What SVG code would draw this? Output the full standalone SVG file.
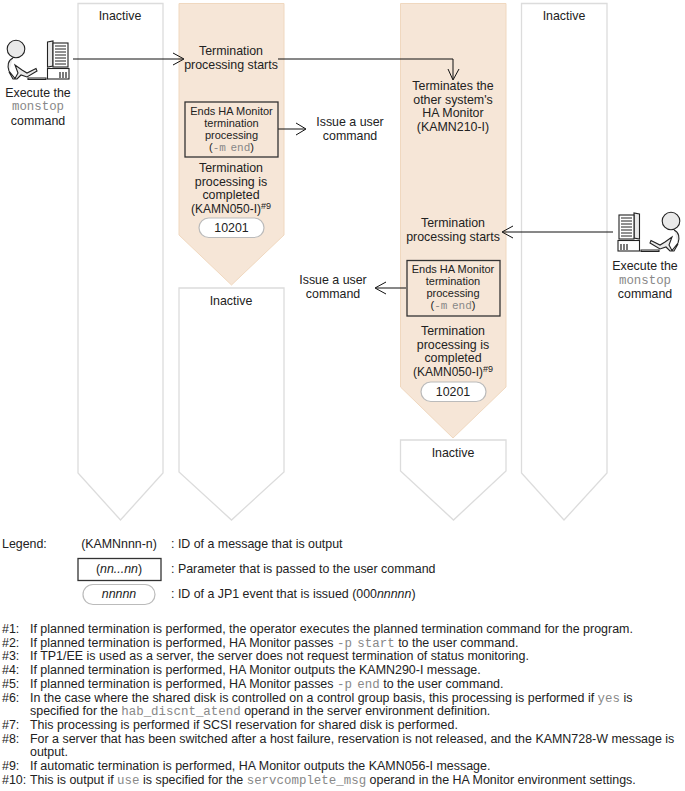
<svg xmlns="http://www.w3.org/2000/svg" width="685" height="791" viewBox="0 0 685 791">
<style>
text{font-family:"Liberation Sans",Arial,sans-serif;font-size:12.4px;fill:#222}
.c{text-anchor:middle}
.m{font-family:"Liberation Mono","Courier New",monospace;fill:#888;word-spacing:-2px}
.i{font-style:italic}
.s{font-size:11px}
.k{font-size:12px}
.n{font-size:12.45px}
.lane{fill:#fff;stroke:#dcdcdc;stroke-width:1.3}
.act{fill:#f6e6d7;stroke:#f0d8bf;stroke-width:1}
.box{fill:none;stroke:#333;stroke-width:1.3}
.pill{fill:#fff;stroke:#bbb;stroke-width:1.2}
.line{fill:none;stroke:#111;stroke-width:1}
.ico{fill:#e9e9e9;stroke:#222;stroke-width:1.1}
.scr{fill:#fff;stroke:#222;stroke-width:1.1}
</style>
<defs>
<g id="op">
<circle cx="16" cy="49" r="8.800" class="ico"/>
<path class="ico" d="M13 58 C8 60 7 66 9 71 L15 78.500 L18 73 L15 65 L22 70 L27 73 L36 68.500 L37 71 L27 77 L21 75 L17 79 L13 79 L9 72"/>
<path class="ico" d="M28 78H46V79.500H28Z"/>
<path class="ico" d="M47.500 42 L53 41 L53 66 L47.500 67 Z"/>
<rect x="53" y="43" width="15" height="24" class="scr"/>
<path d="M55 46h11M55 49h11M55 52h11M55 55h11M55 58h11M55 61h11M55 64h11" stroke="#222" stroke-width="1"/>
<rect x="47.500" y="68.500" width="21.500" height="10.500" class="scr"/>
<path d="M60 72v6M63 72v6M66 72v6" stroke="#222" stroke-width="1.200"/>
</g>
</defs>
<g id="lane-1"><path class="lane" d="M78 3.500H163V473L120.500 520L78 473Z"/><text class="c" x="120" y="20">Inactive</text></g>
<g id="lane-2-active"><path class="act" d="M179 3.500H284V235L231.500 285L179 235Z"/></g>
<g id="lane-2-inactive"><path class="lane" d="M179 288H284V472L231.500 520L179 472Z"/><text class="c" x="231" y="305">Inactive</text></g>
<g id="lane-3-active"><path class="act" d="M400.500 3.500H506V387L453 438L400.500 387Z"/></g>
<g id="lane-3-inactive"><path class="lane" d="M400.500 440H506V471L453.500 520L400.500 471Z"/><text class="c" x="453" y="457">Inactive</text></g>
<g id="lane-4"><path class="lane" d="M521.500 3.500H607V473L564 520L521.500 473Z"/><text class="c" x="564" y="20">Inactive</text></g>

<g id="connectors">
<path class="line" d="M73 59H183M173 53L184 59L173 65"/>
<path class="line" d="M278 59H453V79M448 69L453 80L459 69"/>
<path class="line" d="M278 129H305M296 123L306 129L296 135"/>
<path class="line" d="M613 232H503M513 226L502 232L513 238"/>
<path class="line" d="M406 288H376M386 282L375 288L386 294"/>
</g>

<g id="op-left"><use href="#op"/><text class="c" x="38" y="97">Execute the</text><text class="c m" x="38" y="110">monstop</text><text class="c" x="38" y="125">command</text></g>
<g id="op-right"><use href="#op" transform="translate(687 172) scale(-1 1)"/><text class="c" x="645" y="270">Execute the</text><text class="c m" x="645" y="284">monstop</text><text class="c" x="645" y="298">command</text></g>

<g id="start-1"><text class="c" x="231" y="55">Termination</text><text class="c" x="231" y="69">processing starts</text></g>
<g id="end-1"><rect class="box" x="185" y="102" width="93" height="55"/><text class="c s" x="231.500" y="115">Ends HA Monitor</text><text class="c s" x="231.500" y="127">termination</text><text class="c s" x="231.500" y="139">processing</text><text class="c s" x="231.500" y="151">(<tspan class="m">-m end</tspan>)</text></g>
<g id="done-1"><text class="c" x="231" y="172">Termination</text><text class="c" x="231" y="186">processing is</text><text class="c" x="231" y="199">completed</text><text class="k" x="191" y="213">(KAMN050-I)<tspan font-size="9" dy="-4">#9</tspan></text></g>
<g id="pill-1"><rect class="pill" x="199" y="218" width="65" height="19.500" rx="9.700"/><text class="c" x="231.500" y="232">10201</text></g>
<g id="cmd-1"><text class="c" x="350" y="126">Issue a user</text><text class="c" x="350" y="140">command</text></g>

<g id="term-other"><text class="c" x="453" y="90">Terminates the</text><text class="c" x="453" y="104">other system's</text><text class="c" x="453" y="117">HA Monitor</text><text class="c" x="453" y="131">(KAMN210-I)</text></g>
<g id="start-2"><text class="c" x="453" y="227">Termination</text><text class="c" x="453" y="241">processing starts</text></g>
<g id="end-2"><rect class="box" x="407" y="260.500" width="93" height="55.500"/><text class="c s" x="453" y="273">Ends HA Monitor</text><text class="c s" x="453" y="285">termination</text><text class="c s" x="453" y="297">processing</text><text class="c s" x="453" y="309">(<tspan class="m">-m end</tspan>)</text></g>
<g id="done-2"><text class="c" x="453" y="335">Termination</text><text class="c" x="453" y="349">processing is</text><text class="c" x="453" y="362">completed</text><text class="k" x="413" y="376">(KAMN050-I)<tspan font-size="9" dy="-4">#9</tspan></text></g>
<g id="pill-2"><rect class="pill" x="421" y="382" width="65" height="19.500" rx="9.700"/><text class="c" x="453" y="396">10201</text></g>
<g id="cmd-2"><text class="c" x="333" y="284">Issue a user</text><text class="c" x="333" y="298">command</text></g>

<g id="legend">
<text x="2" y="548">Legend:</text>
<text class="c" x="119" y="548">(KAMNnnn-n)</text>
<text x="171" y="548">: ID of a message that is output</text>
<rect class="box" x="78" y="558.500" width="83" height="22"/>
<text class="c" x="119" y="573">(<tspan class="i">nn...nn</tspan>)</text>
<text x="171" y="573">: Parameter that is passed to the user command</text>
<rect class="pill" x="83" y="584.500" width="72" height="20" rx="10"/>
<text class="c i" x="119" y="598">nnnnn</text>
<text x="171" y="598">: ID of a JP1 event that is issued (000<tspan class="i">nnnnn</tspan>)</text>
</g>

<g id="notes">
<text class="n" x="2" y="633">#1:</text><text class="n" x="30" y="633">If planned termination is performed, the operator executes the planned termination command for the program.</text>
<text class="n" x="2" y="646.700">#2:</text><text class="n" x="30" y="646.700">If planned termination is performed, HA Monitor passes <tspan class="m">-p start</tspan> to the user command.</text>
<text class="n" x="2" y="660.400">#3:</text><text class="n" x="30" y="660.400">If TP1/EE is used as a server, the server does not request termination of status monitoring.</text>
<text class="n" x="2" y="674.100">#4:</text><text class="n" x="30" y="674.100">If planned termination is performed, HA Monitor outputs the KAMN290-I message.</text>
<text class="n" x="2" y="687.800">#5:</text><text class="n" x="30" y="687.800">If planned termination is performed, HA Monitor passes <tspan class="m">-p end</tspan> to the user command.</text>
<text class="n" x="2" y="701.500">#6:</text><text class="n" x="30" y="701.500">In the case where the shared disk is controlled on a control group basis, this processing is performed if <tspan class="m">yes</tspan> is</text>
<text class="n" x="30" y="715.200">specified for the <tspan class="m">hab_discnt_atend</tspan> operand in the server environment definition.</text>
<text class="n" x="2" y="728.900">#7:</text><text class="n" x="30" y="728.900">This processing is performed if SCSI reservation for shared disk is performed.</text>
<text class="n" x="2" y="742.600">#8:</text><text class="n" x="30" y="742.600">For a server that has been switched after a host failure, reservation is not released, and the KAMN728-W message is</text>
<text class="n" x="30" y="756.300">output.</text>
<text class="n" x="2" y="770">#9:</text><text class="n" x="30" y="770">If automatic termination is performed, HA Monitor outputs the KAMN056-I message.</text>
<text class="n" x="2" y="783.700">#10:</text><text class="n" x="30" y="783.700">This is output if <tspan class="m">use</tspan> is specified for the <tspan class="m">servcomplete_msg</tspan> operand in the HA Monitor environment settings.</text>
</g>
</svg>
